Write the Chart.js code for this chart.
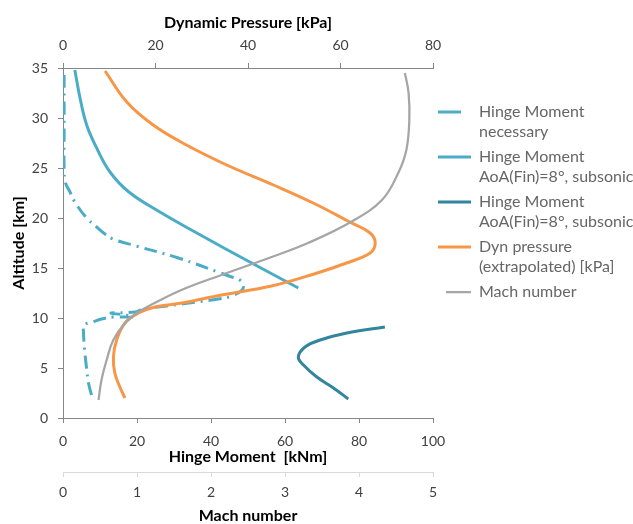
<!DOCTYPE html>
<html>
<head>
<meta charset="utf-8">
<title>Hinge moment vs altitude</title>
<script src="https://cdn.jsdelivr.net/npm/chart.js"></script>
<style>
  html, body { margin: 0; padding: 0; background: #fff; }
  #wrap { width: 633px; height: 524px; }
</style>
</head>
<body>
<div id="wrap"><canvas id="chart" width="633" height="524"></canvas></div>
<script>
// --- data (altitude in km) ---
// Hinge Moment necessary [kNm]
const necessaryMoment = [7.7, 6.9, 6.3, 5.8, 5.5, 5.6, 8.0, 10.4, 14.0, 19.0, 16.8, 13.0, 19.5, 21.6, 28.0, 34.0, 42.0, 45.6, 48.4, 48.7, 47.8, 45.6, 42.6, 31.2, 19.8, 13.5, 11.0, 9.1, 6.4, 3.2, 1.9, 0.6, 0.3, 0.3, 0.3, 0.3];
const necessaryAlt    = [2.3, 3.5, 5.2, 7.0, 8.8, 9.3, 9.6, 9.9, 10.1, 10.1, 10.3, 10.5, 10.6, 10.9, 11.2, 11.5, 11.9, 12.2, 12.8, 13.3, 13.8, 14.1, 14.5, 16.0, 17.2, 17.9, 18.5, 19.1, 20.0, 21.6, 22.6, 23.6, 25.0, 28.0, 31.0, 34.7];

// Hinge Moment AoA(Fin)=8°, subsonic (upper branch)
const aoaHighMoment = [3.2, 4.6, 6.4, 9.1, 12.7, 17.8, 26.2, 35.2, 44.0, 53.0, 63.6];
const aoaHighAlt    = [34.8, 32.0, 29.3, 27.0, 24.6, 22.6, 20.6, 18.7, 16.9, 15.1, 13.0];

// Hinge Moment AoA(Fin)=8°, subsonic (lower branch)
const aoaLowMoment = [87.0, 76.7, 69.5, 65.4, 63.6, 65.0, 68.6, 73.1, 77.1];
const aoaLowAlt    = [9.1, 8.5, 7.8, 7.1, 6.1, 5.3, 4.1, 3.0, 1.9];

// Dyn pressure (extrapolated) [kPa]
const dynPressure    = [13.4, 12.3, 11.2, 10.9, 11.6, 13.4, 16.3, 19.9, 25.7, 34.3, 45.1, 54.3, 61.3, 66.4, 67.5, 66.4, 62.0, 54.1, 45.5, 35.4, 26.7, 19.5, 13.8, 9.1];
const dynPressureAlt = [2.0, 3.1, 4.5, 6.1, 7.8, 9.5, 10.5, 11.1, 11.5, 12.3, 13.2, 14.4, 15.5, 16.5, 17.5, 18.5, 19.6, 21.5, 23.3, 25.3, 27.3, 29.3, 31.6, 34.7];

// Mach number
const machNumber = [0.48, 0.52, 0.59, 0.68, 0.84, 1.02, 1.24, 1.60, 2.14, 2.82, 3.31, 3.89, 4.31, 4.53, 4.64, 4.68, 4.67, 4.62];
const machAlt    = [1.8, 3.8, 5.8, 7.8, 9.5, 10.6, 11.5, 12.8, 14.3, 16.1, 17.5, 19.6, 21.8, 24.5, 26.8, 29.8, 32.5, 34.5];

// axis ranges and ticks: [min, max, step]
const altTicks = [0, 35, 5];
const momentTicks = [0, 100, 20];
const pressureTicks = [0, 80, 20];
const machTicks = [0, 5, 1];

const legendTexts = [
  ['Hinge Moment', 'necessary'],
  ['Hinge Moment', 'AoA(Fin)=8°, subsonic'],
  ['Hinge Moment', 'AoA(Fin)=8°, subsonic'],
  ['Dyn pressure', '(extrapolated) [kPa]'],
  ['Mach number']
];

// x/y のペアを点の配列にまとめる
function toPoints(xs, ys) {
  return xs.map((v, i) => ({ x: v, y: ys[i] }));
}

const lightBlue = '#4BACC6';
const teal = '#31859C';
const orange = '#F79646';
const grey = '#A5A5A5';
const axisColor = '#868686';
const textColor = '#404040';

Chart.defaults.font.family = 'Lato';

const tickFont = { family: 'Lato', size: 14 };
const titleFont = { family: 'Lato', size: 16, weight: 'bold', lineHeight: 1 };

const datasets = [
  { label: 'Hinge Moment necessary', data: toPoints(necessaryMoment, necessaryAlt), xAxisID: 'x',
    borderColor: lightBlue, borderWidth: 3, borderDash: [13, 6, 2, 6], order: 5 },
  { label: 'Hinge Moment AoA(Fin)=8°, subsonic', data: toPoints(aoaHighMoment, aoaHighAlt), xAxisID: 'x',
    borderColor: lightBlue, borderWidth: 3, order: 4 },
  { label: 'Hinge Moment AoA(Fin)=8°, subsonic ', data: toPoints(aoaLowMoment, aoaLowAlt), xAxisID: 'x',
    borderColor: teal, borderWidth: 3, order: 3 },
  { label: 'Dyn pressure (extrapolated) [kPa]', data: toPoints(dynPressure, dynPressureAlt), xAxisID: 'x2',
    borderColor: orange, borderWidth: 3, order: 2 },
  { label: 'Mach number', data: toPoints(machNumber, machAlt), xAxisID: 'x3',
    borderColor: grey, borderWidth: 2.25, order: 1 }
].map(d => Object.assign({ yAxisID: 'y', showLine: true, pointRadius: 0, tension: 0.4, fill: false }, d));

// 凡例の線の見た目 (左端から描かれる)
const legendDash = [[23, 60], [], [], [], [0, 8, 25, 60]];

new Chart(document.getElementById('chart'), {
  type: 'scatter',
  data: { datasets: datasets },
  options: {
    responsive: false,
    animation: false,
    layout: { padding: 0 },
    scales: {
      x: {
        type: 'linear', position: 'bottom', weight: 0,
        min: momentTicks[0], max: momentTicks[1],
        ticks: { stepSize: momentTicks[2], font: tickFont, color: textColor, padding: 10.5, maxRotation: 0 },
        grid: { drawOnChartArea: false, color: axisColor, tickLength: 5 },
        border: { color: axisColor },
        title: { display: true, text: 'Hinge Moment  [kNm]', font: titleFont, color: '#000', padding: { top: 0, bottom: 7 } },
        afterFit: s => { s.height = 54; }
      },
      x3: {
        type: 'linear', position: 'bottom', weight: 1,
        min: machTicks[0], max: machTicks[1],
        ticks: { stepSize: machTicks[2], font: tickFont, color: textColor, padding: 7.5, maxRotation: 0 },
        grid: { drawOnChartArea: false, color: '#D9D9D9', tickLength: 5 },
        border: { color: '#D9D9D9' },
        title: { display: true, text: 'Mach number', font: titleFont, color: '#000', padding: { top: 0, bottom: 0 } },
        afterFit: s => { s.height = 52; }
      },
      x2: {
        type: 'linear', position: 'top',
        min: pressureTicks[0], max: pressureTicks[1],
        ticks: { stepSize: pressureTicks[2], font: tickFont, color: textColor, padding: 9.5, maxRotation: 0 },
        grid: { drawOnChartArea: false, color: axisColor, tickLength: 5 },
        border: { color: axisColor },
        title: { display: true, text: 'Dynamic Pressure [kPa]', font: titleFont, color: '#000', padding: { top: 14.5, bottom: 0 } },
        afterFit: s => { s.height = 68; }
      },
      y: {
        type: 'linear', position: 'left',
        min: altTicks[0], max: altTicks[1],
        ticks: { stepSize: altTicks[2], font: tickFont, color: textColor, padding: 10 },
        grid: { drawOnChartArea: false, color: axisColor, tickLength: 5 },
        border: { color: axisColor },
        title: { display: true, text: 'Altitude [km]', font: titleFont, color: '#000', padding: { top: 11, bottom: 0 } },
        afterFit: s => { s.width = 63; }
      }
    },
    plugins: {
      tooltip: { enabled: false },
      legend: {
        position: 'right',
        align: 'start',
        maxWidth: 200,
        // 空のタイトルで凡例を下にずらす
        title: { display: true, text: '', font: { size: 10, lineHeight: 1 }, padding: { top: 89, bottom: 0 } },
        labels: {
          usePointStyle: true,
          pointStyleWidth: 33,
          padding: 5,
          color: textColor,
          font: { family: 'Lato', size: 16, lineHeight: 1.25 },
          generateLabels: chart => chart.data.datasets.map((ds, i) => ({
            text: legendTexts[i],
            fillStyle: ds.borderColor,
            strokeStyle: ds.borderColor,
            lineWidth: ds.borderWidth,
            lineDash: legendDash[i],
            lineDashOffset: 0,
            lineCap: 'butt',
            pointStyle: 'line',
            hidden: false,
            datasetIndex: i
          }))
        }
      }
    }
  }
});
</script>
</body>
</html>
